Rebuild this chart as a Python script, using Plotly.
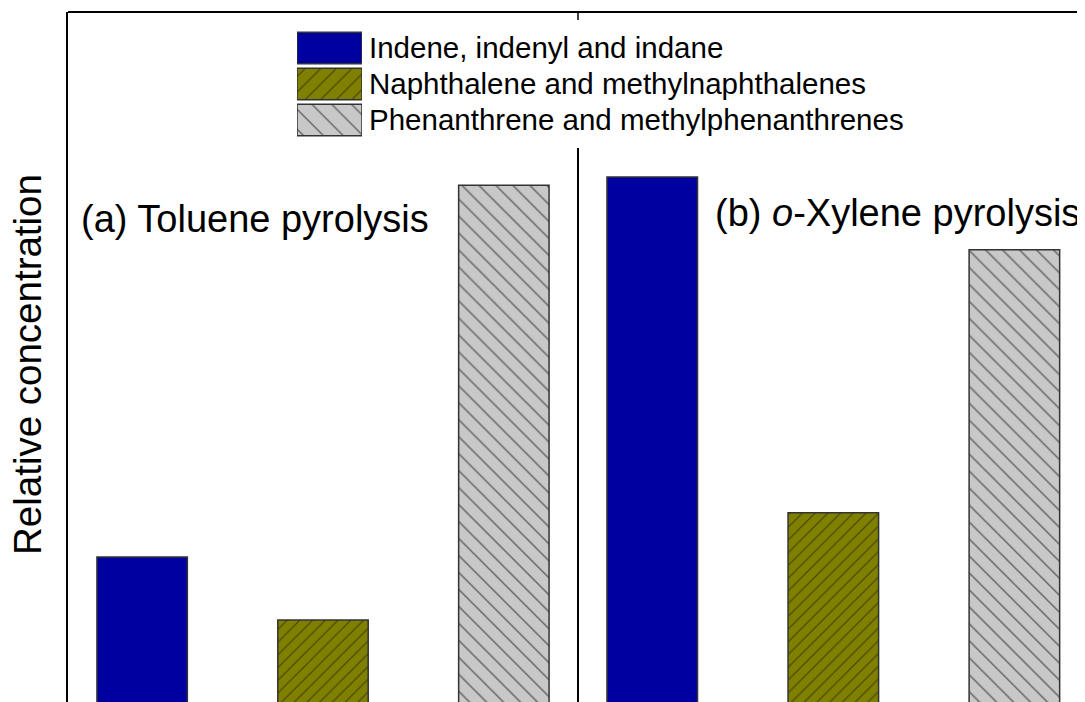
import plotly.graph_objects as go

series = ['Indene, indenyl and indane',
          'Naphthalene and methylnaphthalenes',
          'Phenanthrene and methylphenanthrenes']
toluene = [34.8, 24.0, 98.6]
xylene = [100.0, 42.4, 87.5]
legend_len = [1, 1, 1]

colors = ['#0000a0', '#808000', '#c8c8c8']
patterns = ['', '/', '\\']
pat_size = [8, 9, 12]

FONT = 'Liberation Sans, Arial, sans-serif'

fig = go.Figure()

# main bars, one panel per pyrolysis case
for vals, xa in [(toluene, 'x'), (xylene, 'x2')]:
    for i, name in enumerate(series):
        fig.add_trace(go.Bar(
            x=[name], y=[vals[i]], xaxis=xa, yaxis='y', width=0.5,
            marker=dict(color=colors[i], line=dict(color='#333333', width=1.5),
                        pattern=dict(shape=patterns[i], fillmode='overlay', fgcolor='black',
                                     size=pat_size[i], solidity=0.12)),
            showlegend=False, hoverinfo='skip'))

# legend keys drawn as bars on their own small axis
for i, name in enumerate(series):
    fig.add_trace(go.Bar(
        x=[legend_len[i]], y=[name], orientation='h', xaxis='x3', yaxis='y3', width=0.88,
        marker=dict(color=colors[i], line=dict(color='#333333', width=1.5),
                    pattern=dict(shape=patterns[i], fillmode='overlay', fgcolor='black',
                                 size=pat_size[i] + 2, solidity=0.1)),
        showlegend=False, hoverinfo='skip'))

# page body has an 8px margin, so the figure is drawn 8px smaller
W, H = 1077, 694
L, T = 68, 12          # plot-area corner in window pixels
pw, ph = 1085 - L, 702 - T
def px(x): return (x - L) / pw
def py(y): return (702 - y) / ph

split = px(578)

fig.update_layout(
    width=W, height=H,
    margin=dict(l=L - 8, r=0, t=T - 8, b=0, autoexpand=False),
    paper_bgcolor='white', plot_bgcolor='white',
    font=dict(family=FONT, size=29, color='black'),
    showlegend=False,
    xaxis=dict(domain=[0, split], range=[-0.41, 2.41], categoryorder='array', categoryarray=series,
               showticklabels=False, ticks='', showgrid=False, zeroline=False, automargin=False),
    xaxis2=dict(domain=[split, 1], range=[-0.41, 2.39], categoryorder='array', categoryarray=series,
                showticklabels=False, ticks='', showgrid=False, zeroline=False, anchor='y',
                automargin=False),
    yaxis=dict(range=[9.95, 128.3], showticklabels=False, ticks='', showgrid=False, zeroline=False,
               showline=True, linecolor='black', linewidth=2, automargin=False),
    xaxis3=dict(domain=[px(297), px(362)], range=[0, 1], anchor='y3', visible=False),
    yaxis3=dict(domain=[py(138), py(30)], anchor='x3', side='right', autorange='reversed',
                categoryorder='array', categoryarray=series, showgrid=False, zeroline=False,
                ticks='', ticklabelstandoff=6, automargin=False,
                tickfont=dict(size=29.5, color='black')),
    shapes=[
        dict(type='line', xref='paper', yref='paper', x0=0, x1=1, y0=1, y1=1,
             line=dict(color='black', width=2)),
        dict(type='line', xref='paper', yref='paper', x0=split, x1=split, y0=0, y1=py(148),
             line=dict(color='black', width=2)),
        dict(type='line', xref='paper', yref='paper', x0=split, x1=split, y0=1, y1=py(20),
             line=dict(color='black', width=1.5)),
    ],
    annotations=[
        dict(text='Relative concentration', xref='paper', yref='paper', x=px(27), y=py(365),
             textangle=-90, xanchor='center', yanchor='middle', showarrow=False,
             font=dict(size=38.5)),
        dict(text='(a) Toluene pyrolysis', xref='paper', yref='paper', x=px(79), y=py(219),
             xanchor='left', yanchor='middle', showarrow=False, font=dict(size=38)),
        dict(text='(b) <i>o</i>-Xylene pyrolysis', xref='paper', yref='paper', x=px(713), y=py(213),
             xanchor='left', yanchor='middle', showarrow=False, font=dict(size=38)),
    ],
)

fig.write_html('out.html')
